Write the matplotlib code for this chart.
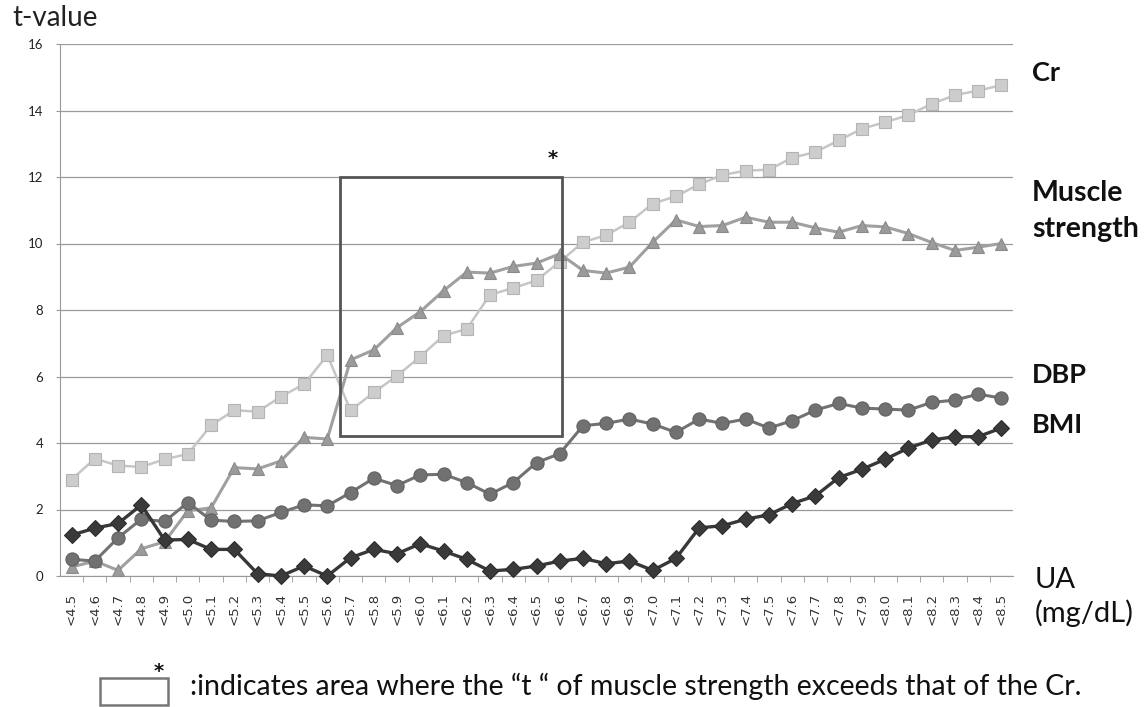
import matplotlib
matplotlib.use("Agg")
import matplotlib.pyplot as plt
from matplotlib.patches import Rectangle
import numpy as np

plt.rcParams['font.family'] = ['Lato', 'DejaVu Sans']

# UA cut-off categories (mg/dL)
ua_labels = ['<4.5', '<4.6', '<4.7', '<4.8', '<4.9', '<5.0', '<5.1', '<5.2', '<5.3', '<5.4',
             '<5.5', '<5.6', '<5.7', '<5.8', '<5.9', '<6.0', '<6.1', '<6.2', '<6.3', '<6.4',
             '<6.5', '<6.6', '<6.7', '<6.8', '<6.9', '<7.0', '<7.1', '<7.2', '<7.3', '<7.4',
             '<7.5', '<7.6', '<7.7', '<7.8', '<7.9', '<8.0', '<8.1', '<8.2', '<8.3', '<8.4',
             '<8.5']

# t-values per series
cr = [2.90, 3.53, 3.32, 3.28, 3.51, 3.67, 4.53, 4.99, 4.94, 5.39,
      5.77, 6.64, 4.98, 5.52, 6.02, 6.60, 7.23, 7.43, 8.46, 8.66,
      8.89, 9.45, 10.04, 10.25, 10.64, 11.20, 11.42, 11.78, 12.06, 12.19,
      12.22, 12.58, 12.75, 13.10, 13.45, 13.65, 13.86, 14.20, 14.46, 14.60,
      14.76]
muscle = [0.27, 0.45, 0.17, 0.82, 1.03, 1.96, 2.05, 3.26, 3.22, 3.46,
          4.17, 4.12, 6.50, 6.80, 7.47, 7.95, 8.58, 9.14, 9.11, 9.31,
          9.41, 9.69, 9.19, 9.11, 9.29, 10.04, 10.71, 10.51, 10.54, 10.79,
          10.64, 10.64, 10.47, 10.34, 10.54, 10.50, 10.30, 10.03, 9.79, 9.89,
          10.00]
dbp = [0.50, 0.45, 1.15, 1.71, 1.64, 2.21, 1.68, 1.64, 1.66, 1.91,
       2.14, 2.11, 2.51, 2.94, 2.72, 3.04, 3.06, 2.81, 2.46, 2.81,
       3.41, 3.68, 4.52, 4.59, 4.72, 4.57, 4.32, 4.72, 4.59, 4.72,
       4.45, 4.67, 4.99, 5.19, 5.05, 5.02, 4.99, 5.22, 5.29, 5.47,
       5.35]
bmi = [1.23, 1.44, 1.58, 2.14, 1.08, 1.10, 0.80, 0.80, 0.07, 0.00,
       0.30, 0.00, 0.55, 0.80, 0.67, 0.97, 0.75, 0.50, 0.15, 0.20,
       0.30, 0.45, 0.53, 0.37, 0.45, 0.17, 0.53, 1.45, 1.51, 1.71,
       1.84, 2.18, 2.41, 2.96, 3.21, 3.51, 3.85, 4.09, 4.19, 4.19,
       4.45]

# area where muscle strength > Cr (category index range, t range)
box_x = [11.55, 21.08]
box_y = [4.2, 12.0]

W, H = 1145, 707
fig = plt.figure(figsize=(W / 100, H / 100), dpi=100)
ax = fig.add_axes([60 / W, 1 - 576 / H, (1013 - 60) / W, (576 - 44) / H])

x = np.arange(len(ua_labels))
ax.plot(x, cr, color='#c6c6c6', lw=1.8, marker='s', ms=8.5,
        mfc='#cdcdcd', mec='#b4b4b4', mew=0.8, clip_on=False, zorder=3)
ax.plot(x, muscle, color='#a0a0a0', lw=2.2, marker='^', ms=9,
        mfc='#9b9b9b', mec='#8a8a8a', mew=0.8, clip_on=False, zorder=4)
ax.plot(x, dbp, color='#727272', lw=2.2, marker='o', ms=9.5,
        mfc='#717171', mec='#616161', mew=0.8, clip_on=False, zorder=5)
ax.plot(x, bmi, color='#383838', lw=2.4, marker='D', ms=8,
        mfc='#3a3a3a', mec='#2c2c2c', mew=0.8, clip_on=False, zorder=6)

ax.add_patch(Rectangle((box_x[0], box_y[0]), box_x[1] - box_x[0], box_y[1] - box_y[0],
                       fill=False, ec='#555555', lw=2.0, zorder=7))
ax.text(20.7, 12.55, '*', ha='center', va='center', fontsize=14, fontweight='bold',
        family='DejaVu Sans', color='#111111')

ax.set_xlim(-0.5, len(ua_labels) - 0.5)
ax.set_ylim(0, 16)
ax.set_yticks(np.arange(0, 17, 2))
ax.set_xticks(x)
ax.set_xticklabels(ua_labels, rotation=90, fontsize=9.5, color='#333333',
                   family='DejaVu Sans')
ax.set_xticks(x[:-1] + 0.5, minor=True)
ax.tick_params(axis='x', which='major', length=0, pad=12)
ax.tick_params(axis='x', which='minor', length=4, color='#999999', direction='out')
ax.tick_params(axis='y', length=3, color='#999999', pad=9, labelsize=9.5,
               labelcolor='#222222')
ax.grid(axis='y', color='#9a9a9a', lw=0.9)
ax.set_axisbelow(True)
for s in ['top', 'right']:
    ax.spines[s].set_visible(False)
ax.spines['left'].set_color('#9a9a9a')
ax.spines['bottom'].set_color('#9a9a9a')

fig.text(12 / W, 1 - 18 / H, 't-value', fontsize=20, va='center', ha='left', color='#222222')

rx = 1032 / W
fig.text(rx, 1 - 73 / H, 'Cr', fontsize=19.5, fontweight='bold', va='center', color='#111111')
fig.text(rx, 1 - 193 / H, 'Muscle', fontsize=20.5, fontweight='bold', va='center',
         color='#111111')
fig.text(rx, 1 - 229 / H, 'strength', fontsize=20.5, fontweight='bold', va='center',
         color='#111111')
fig.text(rx, 1 - 375 / H, 'DBP', fontsize=19.5, fontweight='bold', va='center', color='#111111')
fig.text(rx, 1 - 425 / H, 'BMI', fontsize=19.5, fontweight='bold', va='center', color='#111111')
fig.text(1035 / W, 1 - 580 / H, 'UA', fontsize=21, va='center', color='#111111')
fig.text(1035 / W, 1 - 613 / H, '(mg/dL)', fontsize=21, va='center', color='#111111')

# legend for the box
fig.patches.append(Rectangle((100 / W, 1 - 705 / H), 68 / W, 27 / H, fill=False,
                             ec='#777777', lw=1.8, transform=fig.transFigure, figure=fig))
fig.text(159 / W, 1 - 672 / H, '*', fontsize=14, fontweight='bold', family='DejaVu Sans',
         ha='center', va='center', color='#111111')
fig.text(190 / W, 1 - 686 / H,
         ':indicates area where the \u201ct \u201c of muscle strength exceeds that of the Cr.',
         fontsize=20.5, va='center', ha='left', color='#111111')

fig.savefig('out.png', dpi=100)
